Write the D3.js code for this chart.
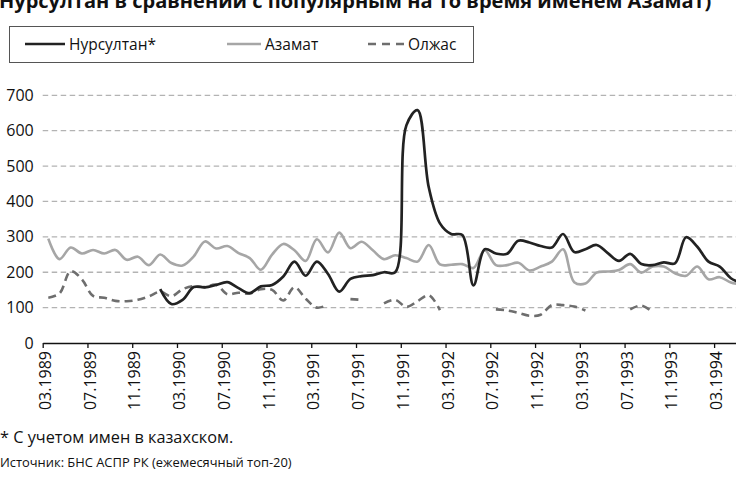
<!DOCTYPE html>
<html>
<head>
<meta charset="utf-8">
<script src="https://cdn.jsdelivr.net/npm/d3@7"></script>
<style>
  body { margin: 0; background: #fff; }
  svg { display: block; font-family: "Open Sans", "Noto Sans", sans-serif; }
</style>
</head>
<body>
<svg id="chart" width="736" height="477"></svg>
<script>
/** Chart data (monthly, 03.1989 - 05.1994) */
const months = [
    '03.1989','04.1989','05.1989','06.1989','07.1989','08.1989','09.1989','10.1989','11.1989','12.1989',
    '01.1990','02.1990','03.1990','04.1990','05.1990','06.1990','07.1990','08.1990','09.1990','10.1990','11.1990','12.1990',
    '01.1991','02.1991','03.1991','04.1991','05.1991','06.1991','07.1991','08.1991','09.1991','10.1991','11.1991','12.1991',
    '01.1992','02.1992','03.1992','04.1992','05.1992','06.1992','07.1992','08.1992','09.1992','10.1992','11.1992','12.1992',
    '01.1993','02.1993','03.1993','04.1993','05.1993','06.1993','07.1993','08.1993','09.1993','10.1993','11.1993','12.1993',
    '01.1994','02.1994','03.1994','04.1994','05.1994'
];
const nursultan = [
    null, null, null, null, null, null, null, null, null, null,
    152, 110, 122, 158, 157, 164, 172, 155, 141, 160, 164, 188,
    230, 190, 230, 195, 145, 181, 189, 192, 200, 200, 615, 658,
    440, 338, 308, 305, 163, 265, 253, 252, 289, 284, 274, 270,
    308, 257, 265, 277, 254, 232, 252, 223, 220, 228, 225, 299,
    272, 230, 216, 183, 168
];
const azamat = [
    295, 237, 270, 253, 263, 253, 263, 235, 244, 220,
    250, 226, 219, 245, 287, 267, 274, 254, 240, 207, 250, 280,
    262, 232, 293, 256, 312, 268, 286, 262, 237, 248, 240, 230,
    277, 222, 221, 223, 212, 262, 220, 220, 227, 205, 216, 230,
    265, 172, 168, 199, 202, 206, 223, 199, 216, 216, 197, 190,
    216, 180, 186, 171, 165
];
const olzhas = [
    128, 140, 203, 180, 133, 128, 119, 118, 122, 132,
    145, 132, 152, 161, 158, 165, 138, 142, 140, 152, 150, 120,
    158, 125, 100, 108, null, 124, 122, null, 112, 122, 102, 118,
    135, 93, null, null, null, null, 95, 92, 85, 77, 80, 107,
    107, 103, 92, null, null, null, 95, 106, 88, null, null, null,
    null, null, null, null, null
];
const yTicks = [0, 100, 200, 300, 400, 500, 600, 700];
const xTickIdx = [0, 4, 8, 12, 16, 20, 24, 28, 32, 36, 40, 44, 48, 52, 56, 60];

const titleText = 'Нурсултан в сравнении с популярным на то время именем Азамат)';
const noteText = '* С учетом имен в казахском.';
const sourceText = 'Источник: БНС АСПР РК (ежемесячный топ-20)';

const series = [
    { name: 'Нурсултан*', values: nursultan, color: '#222222', dash: null, width: 2.7 },
    { name: 'Азамат', values: azamat, color: '#a6a6a6', dash: null, width: 2.6 },
    { name: 'Олжас', values: olzhas, color: '#6e6e6e', dash: '8,5', width: 2.6 }
];

const fontStack = '"Open Sans", "Noto Sans", sans-serif';
const svg = d3.select('#chart');

// Scales: month index on x (points sit in the middle of each month slot)
const plotLeft = 42.7, monthW = 11.19;
const xScale = d3.scaleLinear().domain([0, months.length]).range([plotLeft, plotLeft + months.length * monthW]);
const yScale = d3.scaleLinear().domain([0, 700]).range([343, 95.3]);

// Title (cut off at the top in the source picture)
svg.append('text')
    .attr('x', -1)
    .attr('y', 7.5)
    .attr('font-size', 20)
    .attr('font-weight', 'bold')
    .attr('fill', '#111')
    .text(titleText);

// Legend
const legend = svg.append('g');
legend.append('rect')
    .attr('x', 9.5).attr('y', 26.5)
    .attr('width', 464).attr('height', 36)
    .attr('fill', 'none')
    .attr('stroke', '#555')
    .attr('stroke-width', 1);

const legendPos = [
    { x1: 25, x2: 65, tx: 69 },
    { x1: 227, x2: 261, tx: 265 },
    { x1: 368, x2: 405, tx: 408 }
];
series.forEach((s, i) => {
    const p = legendPos[i];
    legend.append('line')
        .attr('x1', p.x1).attr('x2', p.x2)
        .attr('y1', 44).attr('y2', 44)
        .attr('stroke', s.color)
        .attr('stroke-width', 2.5)
        .attr('stroke-dasharray', s.dash ? '8,6' : null);
    legend.append('text')
        .attr('x', p.tx).attr('y', 50)
        .attr('font-size', 15.5)
        .attr('fill', '#111')
        .text(s.name);
});

// Gridlines
svg.append('g')
    .selectAll('line')
    .data(yTicks.filter(d => d > 0))
    .enter()
    .append('line')
    .attr('x1', plotLeft).attr('x2', 736)
    .attr('y1', d => yScale(d)).attr('y2', d => yScale(d))
    .attr('stroke', '#b3b3b3')
    .attr('stroke-width', 1.3)
    .attr('stroke-dasharray', '5.5,3.5');

// Y-axis labels (no axis line)
svg.append('g')
    .attr('transform', `translate(${plotLeft}, 0)`)
    .call(d3.axisLeft(yScale).tickValues(yTicks).tickSize(0).tickPadding(9))
    .call(g => g.select('.domain').remove())
    .selectAll('text')
    .attr('font-size', 16)
    .attr('font-family', fontStack)
    .attr('fill', '#111');

// X-axis: ticks on month boundaries, labels rotated
const xAxis = svg.append('g')
    .attr('transform', `translate(0, ${yScale(0)})`)
    .call(d3.axisBottom(xScale)
        .tickValues(xTickIdx)
        .tickFormat(i => months[i])
        .tickSizeInner(5)
        .tickSizeOuter(0));
xAxis.select('.domain').attr('stroke', '#111').attr('stroke-width', 1.5);
xAxis.selectAll('.tick line').attr('stroke', '#111').attr('stroke-width', 1.3);
xAxis.selectAll('text')
    .attr('font-size', 16)
    .attr('font-family', fontStack)
    .attr('fill', '#111')
    .attr('transform', 'rotate(-90)')
    .attr('text-anchor', 'end')
    .attr('x', -8)
    .attr('y', 2)
    .attr('dy', '0.35em');

// Lines (smoothed, with gaps for missing months)
const lineGenerator = d3.line()
    .defined(d => d != null)
    .x((d, i) => xScale(i + 0.5))
    .y(d => yScale(d))
    .curve(d3.curveCatmullRom);

// draw order: dashed and gray below the black line
[series[2], series[1], series[0]].forEach(s => {
    svg.append('path')
        .datum(s.values)
        .attr('fill', 'none')
        .attr('stroke', s.color)
        .attr('stroke-width', s.width)
        .attr('stroke-linejoin', 'round')
        .attr('stroke-dasharray', s.dash)
        .attr('d', lineGenerator);
});

// Notes
svg.append('text')
    .attr('x', 0).attr('y', 443)
    .attr('font-size', 16.3)
    .attr('fill', '#111')
    .text(noteText);
svg.append('text')
    .attr('x', 0).attr('y', 467)
    .attr('font-size', 12.9)
    .attr('fill', '#111')
    .text(sourceText);
</script>
</body>
</html>
